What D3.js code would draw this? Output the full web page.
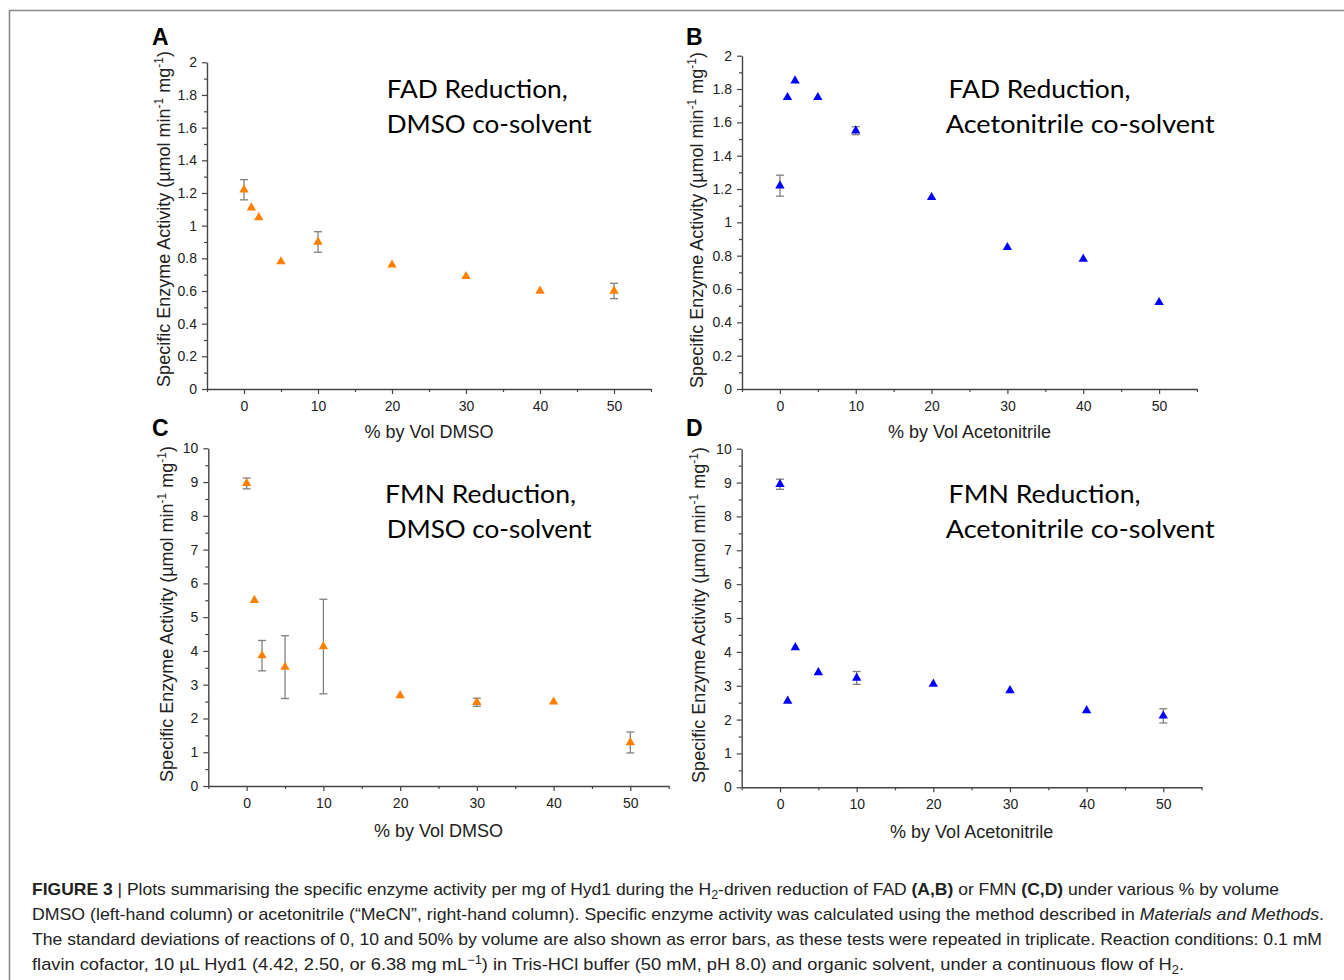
<!DOCTYPE html>
<html>
<head>
<meta charset="utf-8">
<script src="https://cdn.jsdelivr.net/npm/d3@7"></script>
<style>
  html, body { margin: 0; padding: 0; background: #fff; }
  svg { display: block; }
</style>
</head>
<body>
<svg id="chart" width="1344" height="980"></svg>
<script>
// ---------------- DATA ----------------
const concentrations = [0, 1, 2, 5, 10, 20, 30, 40, 50];

const fadDmso    = [1.22, 1.11, 1.05, 0.78, 0.90, 0.76, 0.69, 0.60, 0.60];
const fadDmsoErr = [0.062, 0, 0, 0, 0.063, 0, 0, 0, 0.047];

const fadMecn    = [1.22, 1.75, 1.85, 1.75, 1.55, 1.15, 0.85, 0.78, 0.52];
const fadMecnErr = [0.063, 0, 0, 0, 0.024, 0, 0, 0, 0];

const fmnDmso    = [8.96, 5.50, 3.86, 3.52, 4.13, 2.68, 2.48, 2.49, 1.29];
const fmnDmsoErr = [0.16, 0, 0.45, 0.93, 1.40, 0, 0.12, 0, 0.31];

const fmnMecn    = [8.95, 2.55, 4.13, 3.39, 3.23, 3.05, 2.86, 2.27, 2.11];
const fmnMecnErr = [0.15, 0, 0, 0, 0.19, 0, 0, 0, 0.21];

const xTickValues  = [0, 10, 20, 30, 40, 50];
const xTickLabels  = ["0", "10", "20", "30", "40", "50"];
const xMinorValues = [-5, 5, 15, 25, 35, 45, 55];

const yTickValuesFAD = [0, 0.2, 0.4, 0.6, 0.8, 1, 1.2, 1.4, 1.6, 1.8, 2];
const yTickLabelsFAD = ["0", "0.2", "0.4", "0.6", "0.8", "1", "1.2", "1.4", "1.6", "1.8", "2"];
const yMinorFAD      = [0.1, 0.3, 0.5, 0.7, 0.9, 1.1, 1.3, 1.5, 1.7, 1.9];

const yTickValuesFMN = [0, 1, 2, 3, 4, 5, 6, 7, 8, 9, 10];
const yTickLabelsFMN = ["0", "1", "2", "3", "4", "5", "6", "7", "8", "9", "10"];
const yMinorFMN      = [0.5, 1.5, 2.5, 3.5, 4.5, 5.5, 6.5, 7.5, 8.5, 9.5];

const panelLetters = ["A", "B", "C", "D"];
const xTitles = ["% by Vol DMSO", "% by Vol Acetonitrile", "% by Vol DMSO", "% by Vol Acetonitrile"];
const noteLine1 = ["FAD Reduction,", "FAD Reduction,", "FMN Reduction,", "FMN Reduction,"];
const noteLine2 = ["DMSO co-solvent", "Acetonitrile co-solvent", "DMSO co-solvent", "Acetonitrile co-solvent"];

const ORANGE = "#ff7f00";
const BLUE = "#0000ff";

// ---------------- LAYOUT ----------------
const panels = [
  { letter: panelLetters[0], vals: fadDmso, errs: fadDmsoErr, color: ORANGE, ymax: 2,
    yt: yTickValuesFAD, yl: yTickLabelsFAD, ym: yMinorFAD,
    x0: 207, x1: 651, y0: 389, y1: 62.3, lx: 152, ly: 45, titleX: 169.5, titleY: 219,
    xt: xTitles[0], xtY: 438, n1: noteLine1[0], n2: noteLine2[0], nx1: 386.7, nx2: 386.7, nb: 98.3, nw1: 181, nw2: 205 },
  { letter: panelLetters[1], vals: fadMecn, errs: fadMecnErr, color: BLUE, ymax: 2,
    yt: yTickValuesFAD, yl: yTickLabelsFAD, ym: yMinorFAD,
    x0: 742, x1: 1197, y0: 389, y1: 55.7, lx: 686, ly: 45, titleX: 703, titleY: 220,
    xt: xTitles[1], xtY: 438, n1: noteLine1[1], n2: noteLine2[1], nx1: 948.6, nx2: 945.7, nb: 98.3, nw1: 182, nw2: 269 },
  { letter: panelLetters[2], vals: fmnDmso, errs: fmnDmsoErr, color: ORANGE, ymax: 10,
    yt: yTickValuesFMN, yl: yTickLabelsFMN, ym: yMinorFMN,
    x0: 208.3, x1: 668.7, y0: 786, y1: 448.3, lx: 152, ly: 436, titleX: 173, titleY: 614,
    xt: xTitles[2], xtY: 837, n1: noteLine1[2], n2: noteLine2[2], nx1: 385, nx2: 386.7, nb: 503.3, nw1: 191, nw2: 205 },
  { letter: panelLetters[3], vals: fmnMecn, errs: fmnMecnErr, color: BLUE, ymax: 10,
    yt: yTickValuesFMN, yl: yTickLabelsFMN, ym: yMinorFMN,
    x0: 741.7, x1: 1201.6, y0: 787.3, y1: 448.7, lx: 686, ly: 436, titleX: 705, titleY: 615,
    xt: xTitles[3], xtY: 838, n1: noteLine1[3], n2: noteLine2[3], nx1: 948.6, nx2: 945.7, nb: 503.3, nw1: 192, nw2: 269 }
];

const svg = d3.select("#chart");
svg.append("rect").attr("width", 1344).attr("height", 980).attr("fill", "#fff");

// frame
svg.append("path")
  .attr("d", "M9.5,980 V10.5 H1344")
  .attr("fill", "none").attr("stroke", "#8a8a8a").attr("stroke-width", 1.6);

const AXIS_COLOR = "#444";
const FONT = "'Liberation Sans', Arial, Helvetica, sans-serif";

panels.forEach(p => {
  const x = d3.scaleLinear().domain([-5, 55]).range([p.x0, p.x1]);
  const y = d3.scaleLinear().domain([0, p.ymax]).range([p.y0, p.y1]);
  const g = svg.append("g");

  // x axis major
  g.append("g").attr("transform", `translate(0,${p.y0})`)
    .call(d3.axisBottom(x).tickValues(xTickValues)
      .tickFormat((d, i) => xTickLabels[i]).tickSize(5).tickSizeOuter(0).tickPadding(7));
  // x axis minor
  g.append("g").attr("transform", `translate(0,${p.y0})`)
    .call(d3.axisBottom(x).tickValues(xMinorValues).tickFormat("").tickSize(3).tickSizeOuter(0))
    .select(".domain").remove();

  // y axis major
  g.append("g").attr("transform", `translate(${p.x0},0)`)
    .call(d3.axisLeft(y).tickValues(p.yt)
      .tickFormat((d, i) => p.yl[i]).tickSize(5).tickSizeOuter(0).tickPadding(5));
  g.append("g").attr("transform", `translate(${p.x0},0)`)
    .call(d3.axisLeft(y).tickValues(p.ym).tickFormat("").tickSize(3).tickSizeOuter(0))
    .select(".domain").remove();

  g.selectAll(".domain").attr("stroke", AXIS_COLOR).attr("stroke-width", 1.4);
  g.selectAll(".tick line").attr("stroke", AXIS_COLOR).attr("stroke-width", 1.2);
  g.selectAll(".tick text").attr("fill", "#222").style("font-family", FONT).style("font-size", "14px");

  // error bars
  const eb = g.append("g").attr("stroke", "#808080").attr("stroke-width", 1.3).attr("fill", "none");
  concentrations.forEach((c, i) => {
    const e = p.errs[i];
    if (!e) return;
    const cx = x(c), yt = y(p.vals[i] + e), yb = y(p.vals[i] - e);
    eb.append("line").attr("x1", cx).attr("x2", cx).attr("y1", yt).attr("y2", yb);
    eb.append("line").attr("x1", cx - 4).attr("x2", cx + 4).attr("y1", yt).attr("y2", yt);
    eb.append("line").attr("x1", cx - 4).attr("x2", cx + 4).attr("y1", yb).attr("y2", yb);
  });

  // markers
  const tri = d3.symbol().type(d3.symbolTriangle).size(38);
  g.append("g").selectAll("path").data(concentrations).join("path")
    .attr("d", tri)
    .attr("transform", (d, i) => `translate(${x(d)},${y(p.vals[i])})`)
    .attr("fill", p.color);

  // panel letter
  svg.append("text").attr("x", p.lx).attr("y", p.ly).text(p.letter)
    .style("font-family", FONT).style("font-weight", "bold").style("font-size", "23px").attr("fill", "#000");

  // x title
  svg.append("text").attr("x", (p.x0 + p.x1) / 2).attr("y", p.xtY).attr("text-anchor", "middle")
    .text(p.xt).style("font-family", FONT).style("font-size", "18px").attr("fill", "#222");

  // y title
  const yt = svg.append("text")
    .attr("transform", `translate(${p.titleX},${p.titleY}) rotate(-90)`)
    .attr("text-anchor", "middle")
    .style("font-family", FONT).style("font-size", "18px").attr("fill", "#222");
  yt.append("tspan").text("Specific Enzyme Activity (µmol min");
  yt.append("tspan").attr("dy", -7).style("font-size", "12px").text("-1");
  yt.append("tspan").attr("dy", 7).text(" mg");
  yt.append("tspan").attr("dy", -7).style("font-size", "12px").text("-1");
  yt.append("tspan").attr("dy", 7).text(")");

  // annotation
  const NOTE_FONT = "Lato, 'Open Sans', sans-serif";
  svg.append("text").attr("x", p.nx1).attr("y", p.nb).text(p.n1)
    .attr("textLength", p.nw1).attr("lengthAdjust", "spacingAndGlyphs")
    .style("font-family", NOTE_FONT).style("font-size", "25px").attr("fill", "#000");
  svg.append("text").attr("x", p.nx2).attr("y", p.nb + 35).text(p.n2)
    .attr("textLength", p.nw2).attr("lengthAdjust", "spacingAndGlyphs")
    .style("font-family", NOTE_FONT).style("font-size", "25px").attr("fill", "#000");
});

// ---------------- CAPTION ----------------
const captionLines = [
  [["b", "FIGURE 3 "], ["n", "| Plots summarising the specific enzyme activity per mg of Hyd1 during the H"], ["sub", "2"],
   ["n", "-driven reduction of FAD "], ["b", "(A,B)"], ["n", " or FMN "], ["b", "(C,D)"], ["n", " under various % by volume"]],
  [["n", "DMSO (left-hand column) or acetonitrile (\u201cMeCN\u201d, right-hand column). Specific enzyme activity was calculated using the method described in "],
   ["i", "Materials and Methods"], ["n", "."]],
  [["n", "The standard deviations of reactions of 0, 10 and 50% by volume are also shown as error bars, as these tests were repeated in triplicate. Reaction conditions: 0.1 mM"]],
  [["n", "flavin cofactor, 10 \u00b5L Hyd1 (4.42, 2.50, or 6.38 mg mL"], ["sup", "\u22121"],
   ["n", ") in Tris-HCl buffer (50 mM, pH 8.0) and organic solvent, under a continuous flow of H"], ["sub", "2"], ["n", "."]]
];
const captionWidths = [1247, 1292, 1290, 1152];
const captionBase = [895, 920, 945, 970];

captionLines.forEach((line, li) => {
  const t = svg.append("text").attr("x", 32).attr("y", captionBase[li])
    .style("font-family", FONT).style("font-size", "17px").attr("fill", "#222")
    .attr("textLength", captionWidths[li]).attr("lengthAdjust", "spacingAndGlyphs");
  let shift = 0;
  line.forEach(([kind, str]) => {
    const ts = t.append("tspan").text(str);
    let target = 0;
    if (kind === "b") ts.style("font-weight", "bold");
    if (kind === "i") ts.style("font-style", "italic");
    if (kind === "sub") { target = 4; ts.style("font-size", "12px"); }
    if (kind === "sup") { target = -6; ts.style("font-size", "12px"); }
    ts.attr("dy", target - shift);
    shift = target;
  });
});
</script>
</body>
</html>
